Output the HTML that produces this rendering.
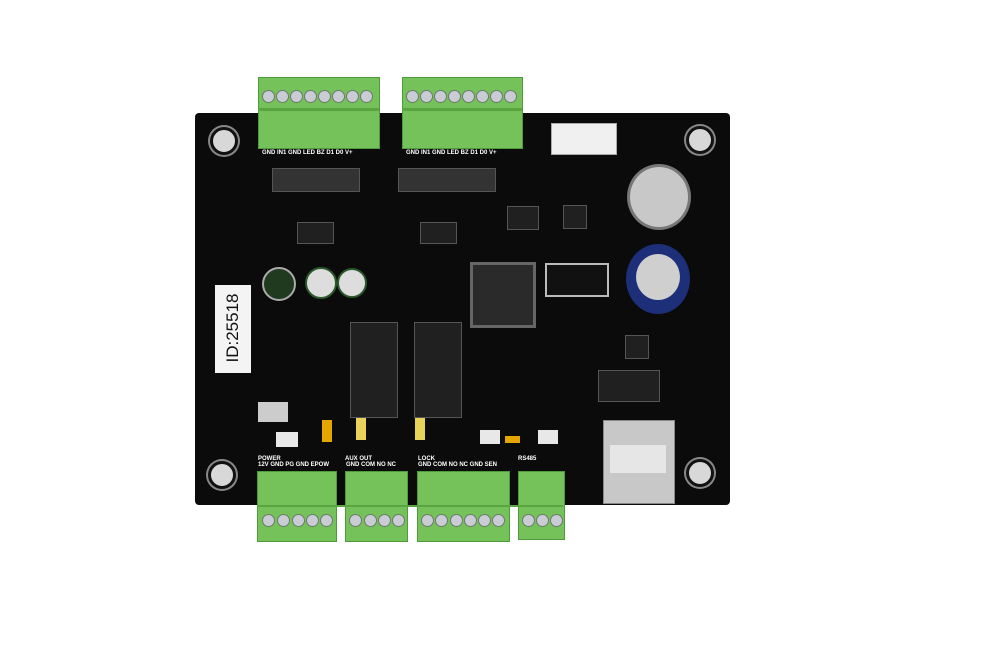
<!DOCTYPE html>
<html><head><style>
body{margin:0;width:986px;height:657px;background:#fff;position:relative;overflow:hidden;font-family:"Liberation Sans",sans-serif}
.a{position:absolute}
.g{background:#76c25a;border:1px solid #4f9a3a}
.s{position:absolute;width:11px;height:11px;border-radius:50%;background:#c9ccd4;border:1px solid #6b7b6a}
.t{position:absolute;color:#fff;font-size:6px;font-weight:bold;white-space:nowrap}
.c{position:absolute;background:#202020;border:1px solid #555}
.w{position:absolute;background:#e8e8e8}
.h{position:absolute;width:22px;height:22px;border-radius:50%;background:#d8d8d8;border:3px solid #111;box-shadow:0 0 0 2px #888}
</style></head><body>
<div class="a" style="left:195px;top:113px;width:535px;height:392px;background:#0b0b0b;border-radius:4px"></div>
<!-- mounting holes -->
<div class="h" style="left:210px;top:127px"></div>
<div class="h" style="left:686px;top:126px"></div>
<div class="h" style="left:208px;top:461px"></div>
<div class="h" style="left:686px;top:459px"></div>
<!-- top terminal blocks -->
<div class="a g" style="left:258px;top:77px;width:120px;height:70px"></div>
<div class="a g" style="left:402px;top:77px;width:119px;height:70px"></div>
<div class="a" style="left:258px;top:108px;width:121px;height:3px;background:#5aa540"></div>
<div class="a" style="left:402px;top:108px;width:120px;height:3px;background:#5aa540"></div>
<div class="s" style="left:262px;top:90px"></div><div class="s" style="left:276px;top:90px"></div><div class="s" style="left:290px;top:90px"></div><div class="s" style="left:304px;top:90px"></div><div class="s" style="left:318px;top:90px"></div><div class="s" style="left:332px;top:90px"></div><div class="s" style="left:346px;top:90px"></div><div class="s" style="left:360px;top:90px"></div>
<div class="s" style="left:406px;top:90px"></div><div class="s" style="left:420px;top:90px"></div><div class="s" style="left:434px;top:90px"></div><div class="s" style="left:448px;top:90px"></div><div class="s" style="left:462px;top:90px"></div><div class="s" style="left:476px;top:90px"></div><div class="s" style="left:490px;top:90px"></div><div class="s" style="left:504px;top:90px"></div>
<div class="t" style="left:262px;top:150px">GND  IN1  GND LED  BZ  D1  D0  V+</div>
<div class="t" style="left:406px;top:150px">GND IN1 GND LED  BZ  D1  D0  V+</div>
<!-- white header -->
<div class="a" style="left:551px;top:123px;width:64px;height:30px;background:#f0f0f0;border:1px solid #aaa"></div>
<!-- resistor rows -->
<div class="c" style="left:272px;top:168px;width:86px;height:22px;background:#333"></div>
<div class="c" style="left:398px;top:168px;width:96px;height:22px;background:#333"></div>
<div class="c" style="left:297px;top:222px;width:35px;height:20px"></div>
<div class="c" style="left:420px;top:222px;width:35px;height:20px"></div>
<div class="c" style="left:507px;top:206px;width:30px;height:22px"></div>
<div class="c" style="left:563px;top:205px;width:22px;height:22px"></div>
<!-- coin battery -->
<div class="a" style="left:627px;top:164px;width:58px;height:60px;border-radius:50%;background:#c8c8c8;border:3px solid #777"></div>
<!-- cap blue -->
<div class="a" style="left:626px;top:244px;width:64px;height:70px;border-radius:50%;background:#1c2f78"></div>
<div class="a" style="left:636px;top:254px;width:44px;height:46px;border-radius:50%;background:#cfcfcf"></div>
<!-- small caps -->
<div class="a" style="left:262px;top:267px;width:30px;height:30px;border-radius:50%;background:#1f3a1e;border:2px solid #aaa"></div>
<div class="a" style="left:305px;top:267px;width:28px;height:28px;border-radius:50%;background:#ddd;border:2px solid #2a5a2a"></div>
<div class="a" style="left:337px;top:268px;width:26px;height:26px;border-radius:50%;background:#ddd;border:2px solid #2a5a2a"></div>
<!-- ID label -->
<div class="w" style="left:215px;top:285px;width:36px;height:88px;background:#f4f4f4"></div>
<div class="a" style="left:183px;top:318px;width:100px;height:20px;transform:rotate(-90deg);font-size:17px;color:#111;text-align:center">ID:25518</div>
<!-- MCU -->
<div class="a" style="left:470px;top:262px;width:60px;height:60px;background:#2a2a2a;border:3px solid #666"></div>
<div class="c" style="left:545px;top:263px;width:60px;height:30px;background:#111;border:2px solid #bbb"></div>
<!-- relays -->
<div class="c" style="left:350px;top:322px;width:46px;height:94px"></div>
<div class="c" style="left:414px;top:322px;width:46px;height:94px"></div>
<div class="c" style="left:625px;top:335px;width:22px;height:22px"></div>
<div class="c" style="left:598px;top:370px;width:60px;height:30px"></div>
<!-- lower components -->
<div class="w" style="left:258px;top:402px;width:30px;height:20px;background:#ccc"></div>
<div class="w" style="left:276px;top:432px;width:22px;height:15px"></div>
<div class="a" style="left:322px;top:420px;width:10px;height:22px;background:#e6a600"></div>
<div class="a" style="left:356px;top:418px;width:10px;height:22px;background:#e8d25a"></div>
<div class="a" style="left:415px;top:418px;width:10px;height:22px;background:#e8d25a"></div>
<div class="w" style="left:480px;top:430px;width:20px;height:14px"></div>
<div class="a" style="left:505px;top:436px;width:15px;height:7px;background:#e6a600"></div>
<div class="w" style="left:538px;top:430px;width:20px;height:14px"></div>
<!-- ethernet -->
<div class="a" style="left:603px;top:420px;width:70px;height:82px;background:#c8c8c8;border:1px solid #888"></div>
<div class="a" style="left:610px;top:445px;width:56px;height:28px;background:#e6e6e6"></div>
<!-- bottom blocks -->
<div class="t" style="left:258px;top:456px">POWER</div>
<div class="t" style="left:258px;top:462px">12V GND PG GND EPOW</div>
<div class="t" style="left:345px;top:456px">AUX OUT</div>
<div class="t" style="left:346px;top:462px">GND COM NO NC</div>
<div class="t" style="left:418px;top:456px">LOCK</div>
<div class="t" style="left:418px;top:462px">GND COM NO NC GND SEN</div>
<div class="t" style="left:518px;top:456px">RS485</div>
<div class="a g" style="left:257px;top:471px;width:78px;height:69px"></div>
<div class="a g" style="left:345px;top:471px;width:61px;height:69px"></div>
<div class="a g" style="left:417px;top:471px;width:91px;height:69px"></div>
<div class="a g" style="left:518px;top:471px;width:45px;height:67px"></div>
<div class="a" style="left:257px;top:505px;width:306px;height:2px;background:#5aa540"></div>
<div class="s" style="left:262px;top:514px"></div><div class="s" style="left:277px;top:514px"></div><div class="s" style="left:292px;top:514px"></div><div class="s" style="left:306px;top:514px"></div><div class="s" style="left:320px;top:514px"></div>
<div class="s" style="left:349px;top:514px"></div><div class="s" style="left:364px;top:514px"></div><div class="s" style="left:378px;top:514px"></div><div class="s" style="left:392px;top:514px"></div>
<div class="s" style="left:421px;top:514px"></div><div class="s" style="left:435px;top:514px"></div><div class="s" style="left:450px;top:514px"></div><div class="s" style="left:464px;top:514px"></div><div class="s" style="left:478px;top:514px"></div><div class="s" style="left:492px;top:514px"></div>
<div class="s" style="left:522px;top:514px"></div><div class="s" style="left:536px;top:514px"></div><div class="s" style="left:550px;top:514px"></div>
</body></html>
